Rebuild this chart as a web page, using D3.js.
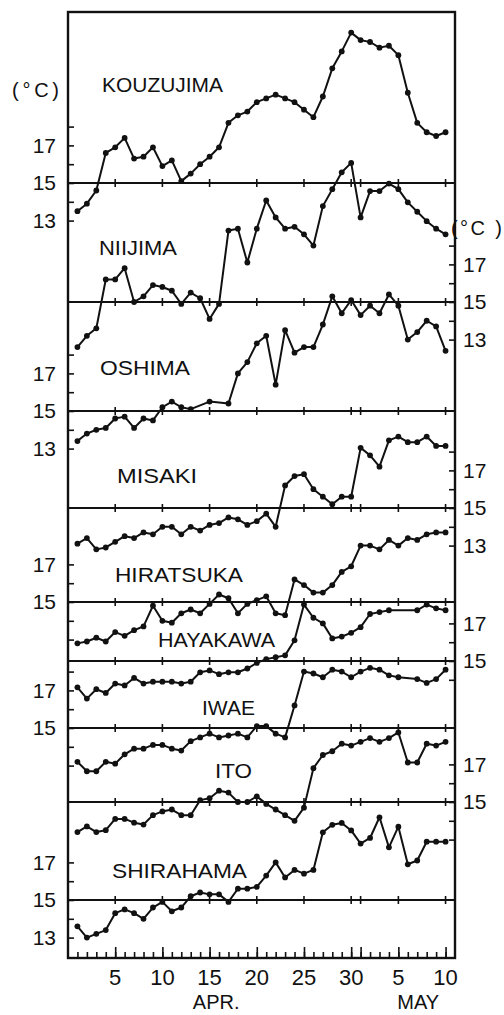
<!DOCTYPE html>
<html>
<head>
<meta charset="utf-8">
<script src="https://cdn.jsdelivr.net/npm/d3@7"></script>
<style>
  body { margin: 0; background: #fff; }
  svg text { font-family: "Liberation Sans", Arial, sans-serif; fill: #111; }
</style>
</head>
<body>
<script>
// days: 1 = Apr 1 ... 40 = May 10
var days = d3.range(1, 41);

var stations = ["KOUZUJIMA", "NIIJIMA", "OSHIMA", "MISAKI", "HIRATSUKA",
                "HAYAKAWA", "IWAE", "ITO", "SHIRAHAMA"];

// daily water temperature (deg C), null = no observation
var kouzujima = [13.5, 13.9, 14.6, 16.6, 16.9, 17.4, 16.3, 16.4, 16.9, 15.9,
                 16.2, 15.1, 15.5, 16.0, 16.4, 16.9, 18.2, 18.6, 18.8, 19.3,
                 19.5, 19.7, 19.5, 19.3, 18.9, 18.5, 19.6, 21.1, 22.0, 23.0,
                 22.6, 22.5, 22.2, 22.3, 21.8, 19.8, 18.2, 17.7, 17.5, 17.7];
var niijima = [12.6, 13.2, 13.6, 16.2, 16.2, 16.8, 15.0, 15.3, 15.9, 15.8,
               15.6, 14.9, 15.5, 15.2, 14.1, 14.9, 18.8, 18.9, 17.1, 18.9,
               20.4, 19.5, 18.9, 19.0, 18.6, 18.0, 20.1, 21.0, 21.9, 22.4,
               19.5, 20.9, 20.9, 21.3, 21.0, 20.3, 19.8, 19.3, 18.9, 18.6];
var oshima = [13.4, 13.8, 14.0, 14.1, 14.6, 14.7, 14.1, 14.6, 14.5, 15.2,
              15.5, 15.2, 15.1, null, 15.5, null, 15.4, 17.0, 17.6, 18.6,
              19.0, 16.4, 19.3, 18.1, 18.4, 18.4, 19.6, 21.1, 20.2, 20.9,
              20.1, 20.6, 20.2, 21.2, 20.6, 18.8, 19.2, 19.8, 19.5, 18.2];
var misaki = [13.1, 13.4, 12.8, 12.9, 13.2, 13.5, 13.4, 13.7, 13.6, 14.0,
              14.0, 13.6, 14.0, 13.8, 14.1, 14.2, 14.5, 14.4, 14.1, 14.3,
              14.7, 14.0, 16.2, 16.7, 16.8, 16.0, 15.6, 15.2, 15.6, 15.6,
              18.2, 17.8, 17.2, 18.6, 18.8, 18.5, 18.5, 18.8, 18.3, 18.3];
var hiratsuka = [12.8, 12.9, 13.1, 12.9, 13.4, 13.2, 13.5, 13.7, 14.8, 14.0,
                 13.9, 14.4, 14.6, 14.4, 14.9, 15.4, 15.2, 14.4, 14.9, 15.1,
                 15.3, 14.4, 14.3, 16.2, 15.9, 15.5, 15.5, 15.9, 16.6, 16.9,
                 18.0, 18.0, 17.8, 18.3, 18.0, 18.4, 18.3, 18.6, 18.7, 18.7];
var hayakawa = [13.6, 13.0, 13.5, 13.3, 13.8, 13.7, 14.1, 13.8, 13.9, 13.9,
                13.9, 13.8, 13.9, 14.4, 14.5, 14.3, 14.4, 14.4, 14.6, 14.9,
                15.1, 15.2, 15.3, 16.1, 18.0, 17.3, 17.0, 16.2, 16.3, 16.5,
                16.8, 17.5, 17.6, 17.7, null, null, 17.7, 18.0, 17.8, 17.7];
var iwae = [13.2, 12.7, 12.7, 13.2, 13.1, 13.6, 13.9, 13.9, 14.1, 14.1,
            13.9, 13.8, 14.3, 14.5, 14.7, 14.5, 14.6, 14.7, 14.5, 15.1,
            15.1, 14.7, 14.5, 16.2, 18.0, 17.9, 17.7, 18.1, 18.0, 17.7,
            18.0, 18.2, 18.1, 17.8, 17.7, null, 17.6, 17.4, 17.6, 18.1];
var ito = [13.4, 13.7, 13.4, 13.5, 14.1, 14.1, 13.9, 13.8, 14.3, 14.5,
           14.6, 14.3, 14.3, 15.1, 15.2, 15.6, 15.5, 15.0, 15.0, 15.3,
           14.9, 14.6, 14.3, 14.0, 14.7, 16.8, 17.5, 17.7, 18.1, 18.0,
           18.2, 18.4, 18.2, 18.4, 18.7, 17.1, 17.1, 18.1, 18.0, 18.2];
var shirahama = [13.6, 13.0, 13.2, 13.4, 14.3, 14.5, 14.3, 14.0, 14.6, 14.9,
                 14.4, 14.6, 15.2, 15.4, 15.3, 15.3, 14.9, 15.6, 15.6, 15.7,
                 16.3, 17.0, 16.2, 16.6, 16.4, 16.6, 18.6, 19.0, 19.1, 18.7,
                 18.0, 18.3, 19.4, 17.8, 18.9, 16.9, 17.1, 18.1, 18.1, 18.1];

var series = [kouzujima, niijima, oshima, misaki, hiratsuka,
              hayakawa, iwae, ito, shirahama];

// temperature axes of each station
var axisSide = ["left", "right", "left", "right", "left", "right", "left", "right", "left"];
var axisTickRange = [[13, 18], [13, 18], [13, 18], [13, 18], [13, 17],
                     [14, 17], [13, 18], [13, 17], [13, 17]];
var axisLabels = [[13, 15, 17], [13, 15, 17], [13, 15, 17], [13, 15, 17], [15, 17],
                  [15, 17], [15, 17], [15, 17], [13, 15, 17]];

// date axis
var dayTicks = [5, 10, 15, 20, 25, 30, 35, 40];
var dayTickLabels = ["5", "10", "15", "20", "25", "30", "5", "10"];
var refLineTicks = [5, 10, 15, 20, 25, 30, 31, 35, 40];
var monthLabels = ["APR.", "MAY"];
var monthDays = [15.7, 37.1];

function init() {
    var w = 504;
    var h = 1015;
    var left = 68, right = 455, top = 12, bottom = 958;
    var degPx = 18.8;

    // y of the 15 deg line of each station
    var baseY = [183, 302, 411, 508, 602, 661, 728, 802, 900];
    // station name placement [x, baseline] and width
    var labelXY = [[102, 92], [99, 255], [100, 375], [117, 483], [115, 582],
                   [158, 647], [202, 715], [215, 778], [112, 878]];
    var labelW = [121, 78, 90, 80, 128, 117, 53, 37, 135];

    var svg = d3.select("body")
                .append("svg")
                .attr("width", w)
                .attr("height", h);

    var xScale = d3.scaleLinear()
        .domain([0, 41])
        .range([left, right]);

    // one y scale per station, 15 deg at its reference line
    var yScales = baseY.map(function(b) {
        return d3.scaleLinear().domain([15, 16]).range([b, b - degPx]);
    });

    // frame
    svg.append("rect")
        .attr("x", left).attr("y", top)
        .attr("width", right - left).attr("height", bottom - top)
        .attr("fill", "none")
        .attr("stroke", "#111")
        .attr("stroke-width", 2.4);

    // 15 deg reference lines with date ticks
    stations.forEach(function(name, i) {
        var y0 = yScales[i](15);
        svg.append("line")
            .attr("x1", left).attr("x2", right)
            .attr("y1", y0).attr("y2", y0)
            .attr("stroke", "#111")
            .attr("stroke-width", 1.8);

        svg.append("g")
            .selectAll("line")
            .data(refLineTicks)
            .enter()
            .append("line")
            .attr("x1", function(d) { return xScale(d); })
            .attr("x2", function(d) { return xScale(d); })
            .attr("y1", y0 - 4)
            .attr("y2", y0 + 4)
            .attr("stroke", "#111")
            .attr("stroke-width", 1.6);
    });

    // temperature axes
    stations.forEach(function(name, i) {
        var r = axisTickRange[i];
        var labels = axisLabels[i];
        var isLeft = axisSide[i] == "left";
        var axis = (isLeft ? d3.axisLeft(yScales[i]) : d3.axisRight(yScales[i]))
            .tickValues(d3.range(r[0], r[1] + 1))
            .tickSize(-6)
            .tickPadding(isLeft ? 12 : 8)
            .tickFormat(function(d) { return labels.indexOf(d) >= 0 ? d : ""; });

        var g = svg.append("g")
            .attr("transform", "translate(" + (isLeft ? left : right) + ",0)")
            .call(axis);
        g.select(".domain").remove();
        g.selectAll(".tick line").attr("stroke", "#111").attr("stroke-width", 1.6);
        g.selectAll(".tick text")
            .style("font-family", "Liberation Sans, Arial, sans-serif")
            .style("font-size", "21px")
            .attr("fill", "#111");
    });

    // unit labels
    svg.append("text")
        .attr("x", 12).attr("y", 97)
        .attr("textLength", 47).attr("lengthAdjust", "spacing")
        .style("font-size", "20px")
        .text("(°C)");
    svg.append("text")
        .attr("x", 451).attr("y", 235)
        .attr("textLength", 51).attr("lengthAdjust", "spacing")
        .style("font-size", "20px")
        .text("(°C )");

    // station names
    svg.selectAll(".station")
        .data(stations)
        .enter()
        .append("text")
        .attr("class", "station")
        .attr("x", function(d, i) { return labelXY[i][0]; })
        .attr("y", function(d, i) { return labelXY[i][1]; })
        .attr("textLength", function(d, i) { return labelW[i]; })
        .attr("lengthAdjust", "spacingAndGlyphs")
        .style("font-size", "21px")
        .text(function(d) { return d; });

    // series lines and points
    var line = d3.line()
        .x(function(d) { return xScale(d.day); })
        .y(function(d) { return d.y; });

    series.forEach(function(vals, i) {
        var pts = days.map(function(d, j) {
            return {day: d, v: vals[j]};
        }).filter(function(p) { return p.v !== null; });
        pts.forEach(function(p) { p.y = yScales[i](p.v); });

        svg.append("path")
            .datum(pts)
            .attr("d", line)
            .attr("fill", "none")
            .attr("stroke", "#111")
            .attr("stroke-width", 2)
            .attr("stroke-linejoin", "round");

        svg.append("g")
            .selectAll("circle")
            .data(pts)
            .enter()
            .append("circle")
            .attr("cx", function(d) { return xScale(d.day); })
            .attr("cy", function(d) { return d.y; })
            .attr("r", 2.9)
            .attr("fill", "#111");
    });

    // date axis along the bottom, ticks inside
    var minor = d3.axisBottom(xScale)
        .tickValues(days)
        .tickSize(-6)
        .tickFormat("");
    var major = d3.axisBottom(xScale)
        .tickValues(refLineTicks)
        .tickSize(-11)
        .tickFormat("");
    [minor, major].forEach(function(ax) {
        var g = svg.append("g")
            .attr("transform", "translate(0," + bottom + ")")
            .call(ax);
        g.select(".domain").remove();
        g.selectAll(".tick line").attr("stroke", "#111").attr("stroke-width", 1.6);
    });

    svg.append("g")
        .selectAll("text")
        .data(dayTicks)
        .enter()
        .append("text")
        .attr("x", function(d) { return xScale(d); })
        .attr("y", 985)
        .attr("text-anchor", "middle")
        .style("font-size", "22px")
        .text(function(d, i) { return dayTickLabels[i]; });

    svg.append("g")
        .selectAll("text")
        .data(monthLabels)
        .enter()
        .append("text")
        .attr("x", function(d, i) { return xScale(monthDays[i]); })
        .attr("y", 1009)
        .attr("text-anchor", "middle")
        .style("font-size", "20px")
        .text(function(d) { return d; });
}

window.onload = init;
</script>
</body>
</html>
